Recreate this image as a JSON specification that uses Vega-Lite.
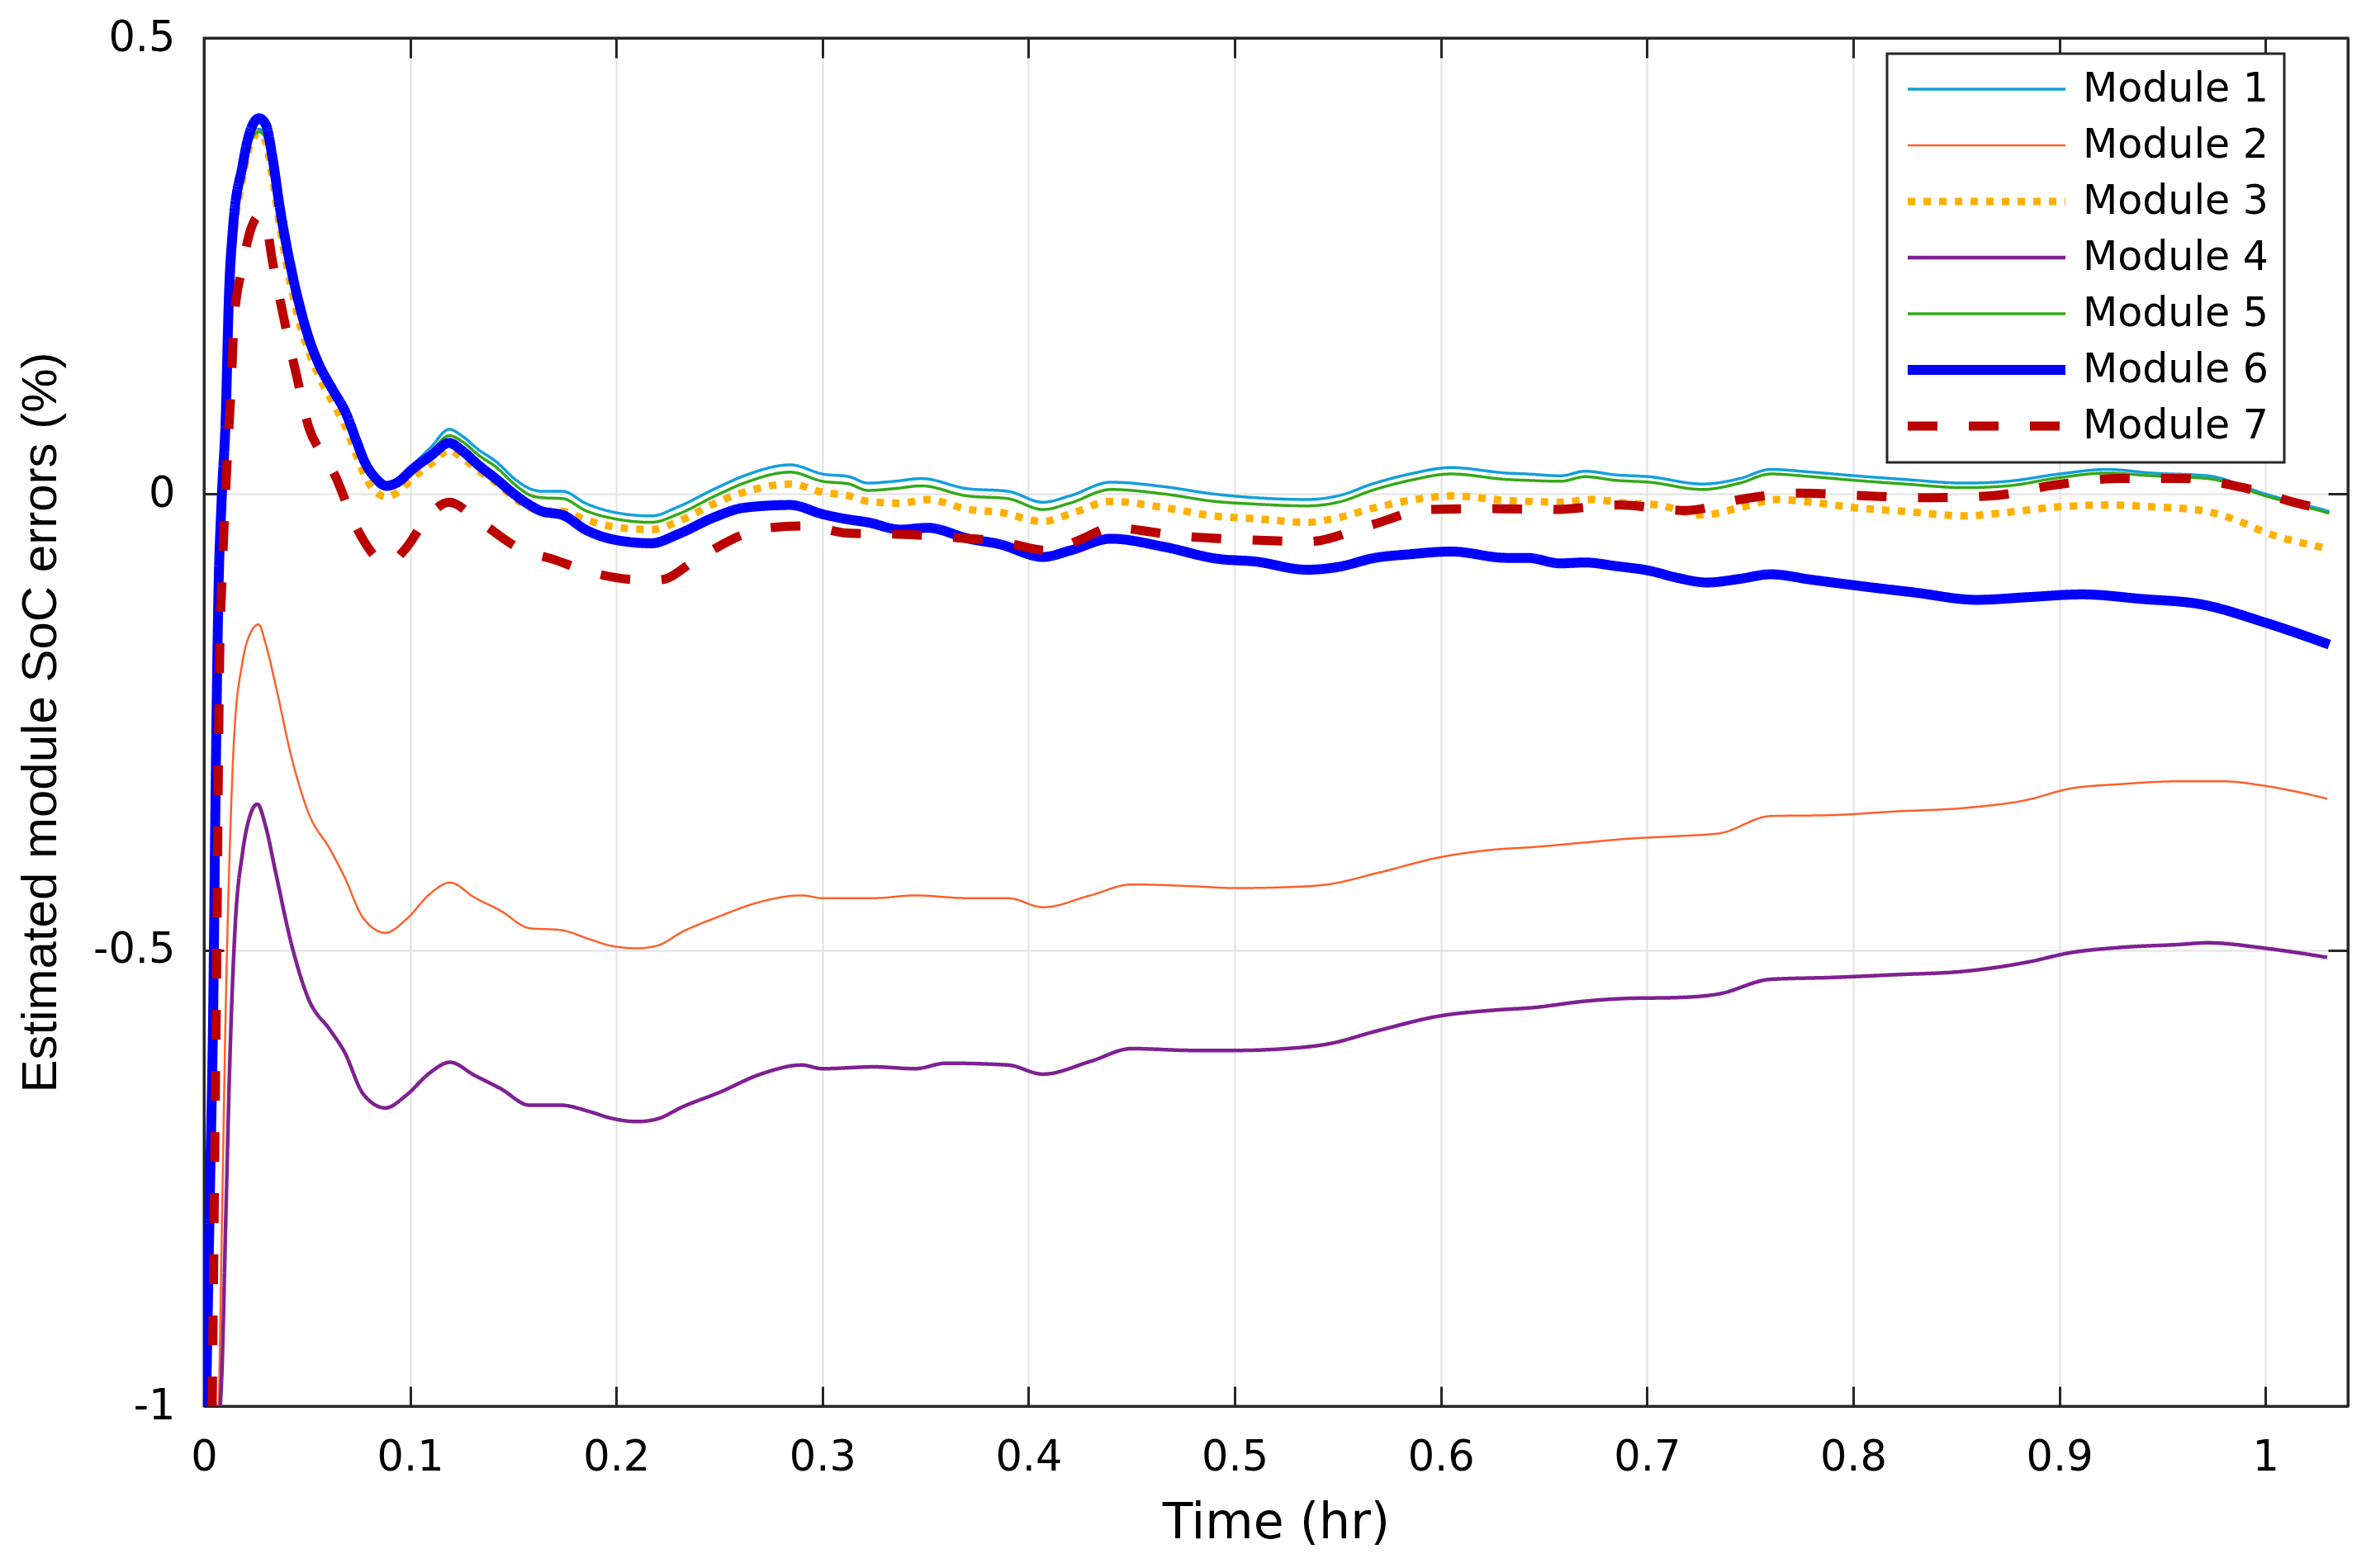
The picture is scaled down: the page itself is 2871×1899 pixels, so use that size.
{
  "$schema": "https://vega.github.io/schema/vega-lite/v6.json",
  "autosize": {"type": "none"},
  "padding": {"left": 247, "top": 46, "right": 28, "bottom": 196},
  "width": 2596,
  "height": 1657,
  "background": "white",
  "config": {
    "view": {"stroke": "#262626", "strokeWidth": 3},
    "axis": {
      "domain": true, "domainColor": "#262626", "domainWidth": 3,
      "tickColor": "#262626", "tickWidth": 3, "tickSize": -24,
      "gridColor": "#e2e2e2", "gridWidth": 2, "labelFlush": false,
      "labelFont": "DejaVu Sans", "labelFontSize": 51, "labelColor": "#000000",
      "titleColor": "#000000", "titleFontWeight": "normal"
    },
    "legend": {
      "orient": "none", "legendX": 2038, "legendY": 19,
      "fillColor": "white", "strokeColor": "#262626", "strokeWidth": 3,
      "padding": 19, "symbolType": "stroke", "symbolSize": 36481,
      "labelFont": "DejaVu Sans", "labelFontSize": 49, "labelColor": "#000000",
      "labelOffset": 15, "rowPadding": 19, "clipHeight": 48, "labelLimit": 500, "symbolOpacity": 1
    }
  },
  "data": {"values": [
    {"module":"Module 1","t":0.001,"v":-1.0},{"module":"Module 1","t":0.003,"v":-0.75},{"module":"Module 1","t":0.0055,"v":-0.37},{"module":"Module 1","t":0.007,"v":-0.12},{"module":"Module 1","t":0.0085,"v":-0.02},{"module":"Module 1","t":0.0106,"v":0.08},{"module":"Module 1","t":0.012,"v":0.2},{"module":"Module 1","t":0.014,"v":0.28},{"module":"Module 1","t":0.0187,"v":0.35},{"module":"Module 1","t":0.022,"v":0.385},{"module":"Module 1","t":0.0267,"v":0.4},{"module":"Module 1","t":0.03,"v":0.393},{"module":"Module 1","t":0.033,"v":0.36},{"module":"Module 1","t":0.037,"v":0.3},{"module":"Module 1","t":0.042,"v":0.24},{"module":"Module 1","t":0.046,"v":0.2},{"module":"Module 1","t":0.051,"v":0.165},{"module":"Module 1","t":0.056,"v":0.137},{"module":"Module 1","t":0.062,"v":0.112},{"module":"Module 1","t":0.069,"v":0.082},{"module":"Module 1","t":0.074,"v":0.053},{"module":"Module 1","t":0.078,"v":0.032},{"module":"Module 1","t":0.083,"v":0.014},{"module":"Module 1","t":0.0885,"v":0.006},{"module":"Module 1","t":0.094,"v":0.013},{"module":"Module 1","t":0.101,"v":0.031},{"module":"Module 1","t":0.11,"v":0.051},{"module":"Module 1","t":0.119,"v":0.071},{"module":"Module 1","t":0.125,"v":0.064},{"module":"Module 1","t":0.133,"v":0.049},{"module":"Module 1","t":0.142,"v":0.035},{"module":"Module 1","t":0.151,"v":0.016},{"module":"Module 1","t":0.158,"v":0.006},{"module":"Module 1","t":0.164,"v":0.003},{"module":"Module 1","t":0.174,"v":0.003},{"module":"Module 1","t":0.185,"v":-0.01},{"module":"Module 1","t":0.199,"v":-0.02},{"module":"Module 1","t":0.217,"v":-0.024},{"module":"Module 1","t":0.23,"v":-0.014},{"module":"Module 1","t":0.248,"v":0.006},{"module":"Module 1","t":0.262,"v":0.02},{"module":"Module 1","t":0.2845,"v":0.032},{"module":"Module 1","t":0.3,"v":0.022},{"module":"Module 1","t":0.313,"v":0.019},{"module":"Module 1","t":0.322,"v":0.012},{"module":"Module 1","t":0.335,"v":0.014},{"module":"Module 1","t":0.348,"v":0.017},{"module":"Module 1","t":0.37,"v":0.006},{"module":"Module 1","t":0.39,"v":0.003},{"module":"Module 1","t":0.407,"v":-0.009},{"module":"Module 1","t":0.42,"v":-0.002},{"module":"Module 1","t":0.44,"v":0.013},{"module":"Module 1","t":0.466,"v":0.008},{"module":"Module 1","t":0.49,"v":0.0},{"module":"Module 1","t":0.51,"v":-0.004},{"module":"Module 1","t":0.535,"v":-0.006},{"module":"Module 1","t":0.55,"v":-0.002},{"module":"Module 1","t":0.568,"v":0.012},{"module":"Module 1","t":0.585,"v":0.022},{"module":"Module 1","t":0.605,"v":0.029},{"module":"Module 1","t":0.632,"v":0.023},{"module":"Module 1","t":0.642,"v":0.022},{"module":"Module 1","t":0.658,"v":0.02},{"module":"Module 1","t":0.67,"v":0.025},{"module":"Module 1","t":0.685,"v":0.021},{"module":"Module 1","t":0.701,"v":0.019},{"module":"Module 1","t":0.727,"v":0.011},{"module":"Module 1","t":0.745,"v":0.017},{"module":"Module 1","t":0.76,"v":0.027},{"module":"Module 1","t":0.78,"v":0.024},{"module":"Module 1","t":0.801,"v":0.02},{"module":"Module 1","t":0.825,"v":0.016},{"module":"Module 1","t":0.854,"v":0.012},{"module":"Module 1","t":0.875,"v":0.014},{"module":"Module 1","t":0.9,"v":0.022},{"module":"Module 1","t":0.923,"v":0.027},{"module":"Module 1","t":0.945,"v":0.023},{"module":"Module 1","t":0.972,"v":0.02},{"module":"Module 1","t":1.0,"v":0.0},{"module":"Module 1","t":1.031,"v":-0.019},

    {"module":"Module 2","t":0.0072,"v":-1.0},{"module":"Module 2","t":0.0079,"v":-0.909},{"module":"Module 2","t":0.0092,"v":-0.734},{"module":"Module 2","t":0.0106,"v":-0.558},{"module":"Module 2","t":0.0126,"v":-0.383},{"module":"Module 2","t":0.0146,"v":-0.267},{"module":"Module 2","t":0.0186,"v":-0.185},{"module":"Module 2","t":0.022,"v":-0.155},{"module":"Module 2","t":0.0265,"v":-0.143},{"module":"Module 2","t":0.03,"v":-0.165},{"module":"Module 2","t":0.0346,"v":-0.208},{"module":"Module 2","t":0.0426,"v":-0.29},{"module":"Module 2","t":0.0506,"v":-0.349},{"module":"Module 2","t":0.0613,"v":-0.39},{"module":"Module 2","t":0.068,"v":-0.419},{"module":"Module 2","t":0.0773,"v":-0.465},{"module":"Module 2","t":0.088,"v":-0.481},{"module":"Module 2","t":0.0987,"v":-0.465},{"module":"Module 2","t":0.1093,"v":-0.439},{"module":"Module 2","t":0.1194,"v":-0.426},{"module":"Module 2","t":0.131,"v":-0.442},{"module":"Module 2","t":0.144,"v":-0.457},{"module":"Module 2","t":0.158,"v":-0.476},{"module":"Module 2","t":0.173,"v":-0.478},{"module":"Module 2","t":0.187,"v":-0.488},{"module":"Module 2","t":0.197,"v":-0.495},{"module":"Module 2","t":0.21,"v":-0.498},{"module":"Module 2","t":0.22,"v":-0.495},{"module":"Module 2","t":0.232,"v":-0.48},{"module":"Module 2","t":0.25,"v":-0.463},{"module":"Module 2","t":0.27,"v":-0.447},{"module":"Module 2","t":0.29,"v":-0.44},{"module":"Module 2","t":0.3,"v":-0.443},{"module":"Module 2","t":0.325,"v":-0.443},{"module":"Module 2","t":0.345,"v":-0.44},{"module":"Module 2","t":0.37,"v":-0.443},{"module":"Module 2","t":0.39,"v":-0.443},{"module":"Module 2","t":0.407,"v":-0.453},{"module":"Module 2","t":0.43,"v":-0.44},{"module":"Module 2","t":0.45,"v":-0.428},{"module":"Module 2","t":0.48,"v":-0.43},{"module":"Module 2","t":0.5,"v":-0.432},{"module":"Module 2","t":0.525,"v":-0.431},{"module":"Module 2","t":0.545,"v":-0.428},{"module":"Module 2","t":0.57,"v":-0.415},{"module":"Module 2","t":0.6,"v":-0.398},{"module":"Module 2","t":0.625,"v":-0.39},{"module":"Module 2","t":0.645,"v":-0.387},{"module":"Module 2","t":0.67,"v":-0.382},{"module":"Module 2","t":0.69,"v":-0.378},{"module":"Module 2","t":0.715,"v":-0.375},{"module":"Module 2","t":0.735,"v":-0.372},{"module":"Module 2","t":0.76,"v":-0.353},{"module":"Module 2","t":0.79,"v":-0.352},{"module":"Module 2","t":0.82,"v":-0.348},{"module":"Module 2","t":0.855,"v":-0.344},{"module":"Module 2","t":0.885,"v":-0.335},{"module":"Module 2","t":0.905,"v":-0.323},{"module":"Module 2","t":0.93,"v":-0.318},{"module":"Module 2","t":0.957,"v":-0.315},{"module":"Module 2","t":0.98,"v":-0.315},{"module":"Module 2","t":1.0,"v":-0.32},{"module":"Module 2","t":1.03,"v":-0.334},

    {"module":"Module 3","t":0.001,"v":-1.0},{"module":"Module 3","t":0.003,"v":-0.75},{"module":"Module 3","t":0.0055,"v":-0.37},{"module":"Module 3","t":0.007,"v":-0.13},{"module":"Module 3","t":0.0085,"v":-0.03},{"module":"Module 3","t":0.0106,"v":0.075},{"module":"Module 3","t":0.012,"v":0.19},{"module":"Module 3","t":0.014,"v":0.27},{"module":"Module 3","t":0.0187,"v":0.345},{"module":"Module 3","t":0.022,"v":0.38},{"module":"Module 3","t":0.0267,"v":0.396},{"module":"Module 3","t":0.03,"v":0.386},{"module":"Module 3","t":0.033,"v":0.35},{"module":"Module 3","t":0.037,"v":0.29},{"module":"Module 3","t":0.042,"v":0.23},{"module":"Module 3","t":0.046,"v":0.19},{"module":"Module 3","t":0.051,"v":0.155},{"module":"Module 3","t":0.056,"v":0.128},{"module":"Module 3","t":0.062,"v":0.102},{"module":"Module 3","t":0.069,"v":0.072},{"module":"Module 3","t":0.074,"v":0.042},{"module":"Module 3","t":0.078,"v":0.02},{"module":"Module 3","t":0.083,"v":0.003},{"module":"Module 3","t":0.0885,"v":-0.003},{"module":"Module 3","t":0.094,"v":0.002},{"module":"Module 3","t":0.101,"v":0.017},{"module":"Module 3","t":0.11,"v":0.033},{"module":"Module 3","t":0.119,"v":0.048},{"module":"Module 3","t":0.125,"v":0.04},{"module":"Module 3","t":0.133,"v":0.026},{"module":"Module 3","t":0.142,"v":0.012},{"module":"Module 3","t":0.151,"v":-0.005},{"module":"Module 3","t":0.158,"v":-0.015},{"module":"Module 3","t":0.164,"v":-0.018},{"module":"Module 3","t":0.174,"v":-0.019},{"module":"Module 3","t":0.185,"v":-0.028},{"module":"Module 3","t":0.199,"v":-0.036},{"module":"Module 3","t":0.217,"v":-0.039},{"module":"Module 3","t":0.23,"v":-0.03},{"module":"Module 3","t":0.248,"v":-0.01},{"module":"Module 3","t":0.262,"v":0.002},{"module":"Module 3","t":0.2845,"v":0.011},{"module":"Module 3","t":0.3,"v":0.002},{"module":"Module 3","t":0.313,"v":-0.002},{"module":"Module 3","t":0.322,"v":-0.008},{"module":"Module 3","t":0.338,"v":-0.01},{"module":"Module 3","t":0.351,"v":-0.006},{"module":"Module 3","t":0.371,"v":-0.017},{"module":"Module 3","t":0.386,"v":-0.02},{"module":"Module 3","t":0.407,"v":-0.03},{"module":"Module 3","t":0.42,"v":-0.022},{"module":"Module 3","t":0.44,"v":-0.008},{"module":"Module 3","t":0.466,"v":-0.015},{"module":"Module 3","t":0.49,"v":-0.024},{"module":"Module 3","t":0.51,"v":-0.027},{"module":"Module 3","t":0.535,"v":-0.031},{"module":"Module 3","t":0.55,"v":-0.026},{"module":"Module 3","t":0.568,"v":-0.015},{"module":"Module 3","t":0.585,"v":-0.007},{"module":"Module 3","t":0.605,"v":-0.002},{"module":"Module 3","t":0.632,"v":-0.007},{"module":"Module 3","t":0.642,"v":-0.008},{"module":"Module 3","t":0.658,"v":-0.009},{"module":"Module 3","t":0.673,"v":-0.006},{"module":"Module 3","t":0.69,"v":-0.01},{"module":"Module 3","t":0.705,"v":-0.012},{"module":"Module 3","t":0.727,"v":-0.023},{"module":"Module 3","t":0.745,"v":-0.015},{"module":"Module 3","t":0.763,"v":-0.006},{"module":"Module 3","t":0.78,"v":-0.009},{"module":"Module 3","t":0.801,"v":-0.015},{"module":"Module 3","t":0.825,"v":-0.019},{"module":"Module 3","t":0.854,"v":-0.024},{"module":"Module 3","t":0.875,"v":-0.02},{"module":"Module 3","t":0.9,"v":-0.014},{"module":"Module 3","t":0.923,"v":-0.012},{"module":"Module 3","t":0.945,"v":-0.014},{"module":"Module 3","t":0.969,"v":-0.018},{"module":"Module 3","t":0.985,"v":-0.028},{"module":"Module 3","t":1.0,"v":-0.042},{"module":"Module 3","t":1.031,"v":-0.06},

    {"module":"Module 4","t":0.0079,"v":-1.0},{"module":"Module 4","t":0.0086,"v":-0.967},{"module":"Module 4","t":0.0106,"v":-0.792},{"module":"Module 4","t":0.0126,"v":-0.617},{"module":"Module 4","t":0.0152,"v":-0.471},{"module":"Module 4","t":0.0186,"v":-0.395},{"module":"Module 4","t":0.022,"v":-0.355},{"module":"Module 4","t":0.0259,"v":-0.34},{"module":"Module 4","t":0.03,"v":-0.365},{"module":"Module 4","t":0.0346,"v":-0.413},{"module":"Module 4","t":0.0426,"v":-0.495},{"module":"Module 4","t":0.0506,"v":-0.553},{"module":"Module 4","t":0.0613,"v":-0.588},{"module":"Module 4","t":0.068,"v":-0.611},{"module":"Module 4","t":0.0773,"v":-0.658},{"module":"Module 4","t":0.088,"v":-0.673},{"module":"Module 4","t":0.0987,"v":-0.658},{"module":"Module 4","t":0.1093,"v":-0.635},{"module":"Module 4","t":0.1194,"v":-0.623},{"module":"Module 4","t":0.131,"v":-0.637},{"module":"Module 4","t":0.144,"v":-0.652},{"module":"Module 4","t":0.158,"v":-0.67},{"module":"Module 4","t":0.173,"v":-0.67},{"module":"Module 4","t":0.187,"v":-0.677},{"module":"Module 4","t":0.197,"v":-0.684},{"module":"Module 4","t":0.21,"v":-0.688},{"module":"Module 4","t":0.22,"v":-0.685},{"module":"Module 4","t":0.232,"v":-0.672},{"module":"Module 4","t":0.25,"v":-0.656},{"module":"Module 4","t":0.27,"v":-0.636},{"module":"Module 4","t":0.29,"v":-0.626},{"module":"Module 4","t":0.3,"v":-0.63},{"module":"Module 4","t":0.325,"v":-0.628},{"module":"Module 4","t":0.345,"v":-0.63},{"module":"Module 4","t":0.36,"v":-0.624},{"module":"Module 4","t":0.39,"v":-0.626},{"module":"Module 4","t":0.407,"v":-0.636},{"module":"Module 4","t":0.43,"v":-0.622},{"module":"Module 4","t":0.45,"v":-0.608},{"module":"Module 4","t":0.48,"v":-0.61},{"module":"Module 4","t":0.5,"v":-0.61},{"module":"Module 4","t":0.525,"v":-0.608},{"module":"Module 4","t":0.545,"v":-0.603},{"module":"Module 4","t":0.57,"v":-0.588},{"module":"Module 4","t":0.6,"v":-0.572},{"module":"Module 4","t":0.625,"v":-0.566},{"module":"Module 4","t":0.645,"v":-0.563},{"module":"Module 4","t":0.67,"v":-0.556},{"module":"Module 4","t":0.69,"v":-0.553},{"module":"Module 4","t":0.715,"v":-0.552},{"module":"Module 4","t":0.735,"v":-0.548},{"module":"Module 4","t":0.76,"v":-0.532},{"module":"Module 4","t":0.79,"v":-0.53},{"module":"Module 4","t":0.82,"v":-0.527},{"module":"Module 4","t":0.855,"v":-0.523},{"module":"Module 4","t":0.885,"v":-0.513},{"module":"Module 4","t":0.905,"v":-0.503},{"module":"Module 4","t":0.93,"v":-0.497},{"module":"Module 4","t":0.957,"v":-0.494},{"module":"Module 4","t":0.972,"v":-0.492},{"module":"Module 4","t":1.0,"v":-0.498},{"module":"Module 4","t":1.03,"v":-0.508},

    {"module":"Module 5","t":0.001,"v":-1.0},{"module":"Module 5","t":0.003,"v":-0.75},{"module":"Module 5","t":0.0055,"v":-0.37},{"module":"Module 5","t":0.007,"v":-0.12},{"module":"Module 5","t":0.0085,"v":-0.02},{"module":"Module 5","t":0.0106,"v":0.08},{"module":"Module 5","t":0.012,"v":0.2},{"module":"Module 5","t":0.014,"v":0.28},{"module":"Module 5","t":0.0187,"v":0.35},{"module":"Module 5","t":0.022,"v":0.383},{"module":"Module 5","t":0.0267,"v":0.397},{"module":"Module 5","t":0.03,"v":0.39},{"module":"Module 5","t":0.033,"v":0.357},{"module":"Module 5","t":0.037,"v":0.298},{"module":"Module 5","t":0.042,"v":0.238},{"module":"Module 5","t":0.046,"v":0.198},{"module":"Module 5","t":0.051,"v":0.163},{"module":"Module 5","t":0.056,"v":0.135},{"module":"Module 5","t":0.062,"v":0.11},{"module":"Module 5","t":0.069,"v":0.08},{"module":"Module 5","t":0.074,"v":0.05},{"module":"Module 5","t":0.078,"v":0.03},{"module":"Module 5","t":0.083,"v":0.013},{"module":"Module 5","t":0.0885,"v":0.007},{"module":"Module 5","t":0.094,"v":0.012},{"module":"Module 5","t":0.101,"v":0.029},{"module":"Module 5","t":0.11,"v":0.046},{"module":"Module 5","t":0.119,"v":0.064},{"module":"Module 5","t":0.125,"v":0.058},{"module":"Module 5","t":0.133,"v":0.043},{"module":"Module 5","t":0.142,"v":0.029},{"module":"Module 5","t":0.151,"v":0.01},{"module":"Module 5","t":0.158,"v":-0.001},{"module":"Module 5","t":0.164,"v":-0.004},{"module":"Module 5","t":0.174,"v":-0.005},{"module":"Module 5","t":0.185,"v":-0.018},{"module":"Module 5","t":0.199,"v":-0.027},{"module":"Module 5","t":0.217,"v":-0.031},{"module":"Module 5","t":0.23,"v":-0.022},{"module":"Module 5","t":0.248,"v":-0.002},{"module":"Module 5","t":0.262,"v":0.012},{"module":"Module 5","t":0.2845,"v":0.024},{"module":"Module 5","t":0.3,"v":0.014},{"module":"Module 5","t":0.313,"v":0.011},{"module":"Module 5","t":0.322,"v":0.004},{"module":"Module 5","t":0.335,"v":0.006},{"module":"Module 5","t":0.348,"v":0.009},{"module":"Module 5","t":0.37,"v":-0.002},{"module":"Module 5","t":0.39,"v":-0.005},{"module":"Module 5","t":0.407,"v":-0.017},{"module":"Module 5","t":0.42,"v":-0.01},{"module":"Module 5","t":0.44,"v":0.005},{"module":"Module 5","t":0.466,"v":0.0},{"module":"Module 5","t":0.49,"v":-0.008},{"module":"Module 5","t":0.51,"v":-0.011},{"module":"Module 5","t":0.535,"v":-0.013},{"module":"Module 5","t":0.55,"v":-0.009},{"module":"Module 5","t":0.568,"v":0.005},{"module":"Module 5","t":0.585,"v":0.015},{"module":"Module 5","t":0.605,"v":0.022},{"module":"Module 5","t":0.632,"v":0.016},{"module":"Module 5","t":0.642,"v":0.015},{"module":"Module 5","t":0.658,"v":0.014},{"module":"Module 5","t":0.67,"v":0.019},{"module":"Module 5","t":0.685,"v":0.015},{"module":"Module 5","t":0.701,"v":0.013},{"module":"Module 5","t":0.727,"v":0.005},{"module":"Module 5","t":0.745,"v":0.012},{"module":"Module 5","t":0.76,"v":0.022},{"module":"Module 5","t":0.78,"v":0.019},{"module":"Module 5","t":0.801,"v":0.015},{"module":"Module 5","t":0.825,"v":0.011},{"module":"Module 5","t":0.854,"v":0.007},{"module":"Module 5","t":0.875,"v":0.009},{"module":"Module 5","t":0.9,"v":0.018},{"module":"Module 5","t":0.923,"v":0.023},{"module":"Module 5","t":0.945,"v":0.02},{"module":"Module 5","t":0.972,"v":0.017},{"module":"Module 5","t":1.0,"v":-0.002},{"module":"Module 5","t":1.031,"v":-0.021},

    {"module":"Module 6","t":0.001,"v":-1.0},{"module":"Module 6","t":0.003,"v":-0.75},{"module":"Module 6","t":0.0045,"v":-0.56},{"module":"Module 6","t":0.0055,"v":-0.35},{"module":"Module 6","t":0.007,"v":-0.11},{"module":"Module 6","t":0.0085,"v":-0.01},{"module":"Module 6","t":0.0106,"v":0.088},{"module":"Module 6","t":0.012,"v":0.21},{"module":"Module 6","t":0.014,"v":0.29},{"module":"Module 6","t":0.0187,"v":0.36},{"module":"Module 6","t":0.022,"v":0.395},{"module":"Module 6","t":0.0267,"v":0.412},{"module":"Module 6","t":0.03,"v":0.405},{"module":"Module 6","t":0.033,"v":0.372},{"module":"Module 6","t":0.037,"v":0.311},{"module":"Module 6","t":0.042,"v":0.25},{"module":"Module 6","t":0.046,"v":0.21},{"module":"Module 6","t":0.051,"v":0.17},{"module":"Module 6","t":0.056,"v":0.141},{"module":"Module 6","t":0.062,"v":0.116},{"module":"Module 6","t":0.069,"v":0.088},{"module":"Module 6","t":0.074,"v":0.058},{"module":"Module 6","t":0.078,"v":0.035},{"module":"Module 6","t":0.083,"v":0.018},{"module":"Module 6","t":0.0885,"v":0.009},{"module":"Module 6","t":0.094,"v":0.013},{"module":"Module 6","t":0.101,"v":0.027},{"module":"Module 6","t":0.11,"v":0.042},{"module":"Module 6","t":0.119,"v":0.056},{"module":"Module 6","t":0.125,"v":0.048},{"module":"Module 6","t":0.133,"v":0.032},{"module":"Module 6","t":0.142,"v":0.016},{"module":"Module 6","t":0.151,"v":-0.001},{"module":"Module 6","t":0.158,"v":-0.012},{"module":"Module 6","t":0.164,"v":-0.019},{"module":"Module 6","t":0.174,"v":-0.023},{"module":"Module 6","t":0.185,"v":-0.039},{"module":"Module 6","t":0.199,"v":-0.05},{"module":"Module 6","t":0.217,"v":-0.054},{"module":"Module 6","t":0.23,"v":-0.044},{"module":"Module 6","t":0.248,"v":-0.025},{"module":"Module 6","t":0.262,"v":-0.015},{"module":"Module 6","t":0.2845,"v":-0.012},{"module":"Module 6","t":0.3,"v":-0.022},{"module":"Module 6","t":0.313,"v":-0.028},{"module":"Module 6","t":0.322,"v":-0.031},{"module":"Module 6","t":0.338,"v":-0.039},{"module":"Module 6","t":0.351,"v":-0.037},{"module":"Module 6","t":0.371,"v":-0.049},{"module":"Module 6","t":0.386,"v":-0.055},{"module":"Module 6","t":0.407,"v":-0.069},{"module":"Module 6","t":0.42,"v":-0.062},{"module":"Module 6","t":0.44,"v":-0.049},{"module":"Module 6","t":0.466,"v":-0.058},{"module":"Module 6","t":0.4916,"v":-0.071},{"module":"Module 6","t":0.51,"v":-0.074},{"module":"Module 6","t":0.535,"v":-0.083},{"module":"Module 6","t":0.55,"v":-0.08},{"module":"Module 6","t":0.568,"v":-0.07},{"module":"Module 6","t":0.585,"v":-0.066},{"module":"Module 6","t":0.605,"v":-0.063},{"module":"Module 6","t":0.632,"v":-0.07},{"module":"Module 6","t":0.642,"v":-0.07},{"module":"Module 6","t":0.658,"v":-0.076},{"module":"Module 6","t":0.67,"v":-0.075},{"module":"Module 6","t":0.685,"v":-0.079},{"module":"Module 6","t":0.701,"v":-0.084},{"module":"Module 6","t":0.715,"v":-0.092},{"module":"Module 6","t":0.729,"v":-0.097},{"module":"Module 6","t":0.745,"v":-0.093},{"module":"Module 6","t":0.76,"v":-0.088},{"module":"Module 6","t":0.78,"v":-0.094},{"module":"Module 6","t":0.804,"v":-0.101},{"module":"Module 6","t":0.83,"v":-0.108},{"module":"Module 6","t":0.86,"v":-0.116},{"module":"Module 6","t":0.885,"v":-0.113},{"module":"Module 6","t":0.911,"v":-0.11},{"module":"Module 6","t":0.94,"v":-0.115},{"module":"Module 6","t":0.969,"v":-0.121},{"module":"Module 6","t":1.0,"v":-0.141},{"module":"Module 6","t":1.031,"v":-0.165},

    {"module":"Module 7","t":0.004,"v":-1.0},{"module":"Module 7","t":0.006,"v":-0.55},{"module":"Module 7","t":0.0076,"v":-0.18},{"module":"Module 7","t":0.0088,"v":-0.09},{"module":"Module 7","t":0.0106,"v":0.007},{"module":"Module 7","t":0.0134,"v":0.129},{"module":"Module 7","t":0.0146,"v":0.19},{"module":"Module 7","t":0.0187,"v":0.25},{"module":"Module 7","t":0.022,"v":0.285},{"module":"Module 7","t":0.027,"v":0.305},{"module":"Module 7","t":0.03,"v":0.298},{"module":"Module 7","t":0.033,"v":0.258},{"module":"Module 7","t":0.039,"v":0.19},{"module":"Module 7","t":0.045,"v":0.129},{"module":"Module 7","t":0.051,"v":0.072},{"module":"Module 7","t":0.057,"v":0.045},{"module":"Module 7","t":0.063,"v":0.023},{"module":"Module 7","t":0.074,"v":-0.037},{"module":"Module 7","t":0.0866,"v":-0.073},{"module":"Module 7","t":0.091,"v":-0.074},{"module":"Module 7","t":0.097,"v":-0.062},{"module":"Module 7","t":0.11,"v":-0.021},{"module":"Module 7","t":0.119,"v":-0.009},{"module":"Module 7","t":0.133,"v":-0.029},{"module":"Module 7","t":0.155,"v":-0.062},{"module":"Module 7","t":0.17,"v":-0.072},{"module":"Module 7","t":0.185,"v":-0.084},{"module":"Module 7","t":0.212,"v":-0.094},{"module":"Module 7","t":0.221,"v":-0.094},{"module":"Module 7","t":0.24,"v":-0.07},{"module":"Module 7","t":0.262,"v":-0.044},{"module":"Module 7","t":0.274,"v":-0.037},{"module":"Module 7","t":0.292,"v":-0.035},{"module":"Module 7","t":0.313,"v":-0.043},{"module":"Module 7","t":0.337,"v":-0.044},{"module":"Module 7","t":0.36,"v":-0.047},{"module":"Module 7","t":0.386,"v":-0.052},{"module":"Module 7","t":0.41,"v":-0.062},{"module":"Module 7","t":0.425,"v":-0.05},{"module":"Module 7","t":0.44,"v":-0.037},{"module":"Module 7","t":0.474,"v":-0.046},{"module":"Module 7","t":0.505,"v":-0.05},{"module":"Module 7","t":0.536,"v":-0.052},{"module":"Module 7","t":0.566,"v":-0.034},{"module":"Module 7","t":0.594,"v":-0.017},{"module":"Module 7","t":0.625,"v":-0.016},{"module":"Module 7","t":0.655,"v":-0.017},{"module":"Module 7","t":0.686,"v":-0.012},{"module":"Module 7","t":0.719,"v":-0.018},{"module":"Module 7","t":0.745,"v":-0.006},{"module":"Module 7","t":0.775,"v":0.001},{"module":"Module 7","t":0.806,"v":-0.002},{"module":"Module 7","t":0.837,"v":-0.004},{"module":"Module 7","t":0.867,"v":-0.002},{"module":"Module 7","t":0.898,"v":0.01},{"module":"Module 7","t":0.929,"v":0.017},{"module":"Module 7","t":0.96,"v":0.017},{"module":"Module 7","t":0.991,"v":0.006},{"module":"Module 7","t":1.019,"v":-0.012},{"module":"Module 7","t":1.031,"v":-0.017}
  ]},
  "layer": [
    {
      "mark": {"type": "line", "interpolate": "monotone", "clip": true},
      "encoding": {
        "x": {"field": "t", "type": "quantitative",
          "scale": {"domain": [0, 1.04], "nice": false, "zero": false},
          "axis": {"orient": "bottom", "values": [0, 0.1, 0.2, 0.3, 0.4, 0.5, 0.6, 0.7, 0.8, 0.9, 1],
            "labelExpr": "'' + datum.value", "labelPadding": 61, "grid": true,
            "title": "Time (hr)", "titleFont": "DejaVu Sans", "titleFontSize": 60,
            "titleBaseline": "alphabetic", "titleY": 159}},
        "y": {"field": "v", "type": "quantitative",
          "scale": {"domain": [-1, 0.5], "nice": false, "zero": false},
          "axis": {"orient": "left", "values": [-1, -0.5, 0, 0.5],
            "labelExpr": "'' + datum.value", "labelPadding": 59, "grid": true,
            "title": "Estimated module SoC errors (%)", "titleFont": "Liberation Sans", "titleFontSize": 60,
            "titleBaseline": "alphabetic", "titleX": -180}},
        "color": {"field": "module", "type": "nominal", "title": null,
          "scale": {"domain": ["Module 1","Module 2","Module 3","Module 4","Module 5","Module 6","Module 7"],
            "range": ["#129fdc","#ff5f2a","#ffb000","#7e2191","#34a81a","#0000ff","#bb0000"]}},
        "strokeDash": {"field": "module", "type": "nominal", "title": null,
          "scale": {"type": "ordinal", "domain": ["Module 1","Module 2","Module 3","Module 4","Module 5","Module 6","Module 7"],
            "range": [[1,0],[1,0],[9,10],[1,0],[1,0],[1,0],[36,38]]}},
        "strokeWidth": {"field": "module", "type": "nominal", "title": null,
          "scale": {"type": "ordinal", "domain": ["Module 1","Module 2","Module 3","Module 4","Module 5","Module 6","Module 7"],
            "range": [3.5, 2.5, 9, 4.5, 3.5, 12, 11]}},
        "order": {"field": "t", "type": "quantitative"}
      }
    },
    {
      "mark": {"type": "line", "strokeOpacity": 0},
      "encoding": {
        "x": {"field": "t", "type": "quantitative",
          "axis": {"orient": "top", "values": [0, 0.1, 0.2, 0.3, 0.4, 0.5, 0.6, 0.7, 0.8, 0.9, 1],
            "labels": false, "grid": false, "title": null}},
        "y": {"field": "v", "type": "quantitative",
          "axis": {"orient": "right", "values": [-1, -0.5, 0, 0.5],
            "labels": false, "grid": false, "title": null}},
        "detail": {"field": "module", "type": "nominal"}
      }
    }
  ],
  "resolve": {"axis": {"x": "independent", "y": "independent"}}
}
